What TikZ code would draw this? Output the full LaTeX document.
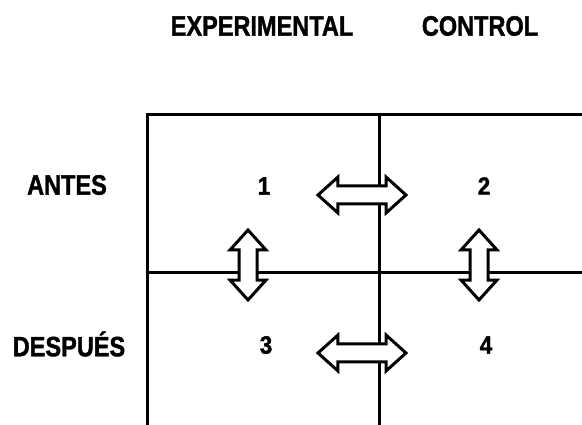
\documentclass[tikz,border=0pt]{standalone}
\usepackage{fontspec}
\setmainfont{Liberation Sans}[BoldFeatures={FakeBold=1.5}]
\usetikzlibrary{shapes.arrows}

\begin{document}
\begin{tikzpicture}
	[
	x=1pt, y=-1pt, line width=3pt, font=\fontsize{28}{30}\selectfont\bfseries,
	%Voreinstellungen für Beschriftung und Pfeile
	titel/.style={inner sep=0pt, xscale=0.84},
	zahl/.style={inner sep=0pt, xscale=0.9, font=\fontsize{25}{27}\selectfont\bfseries},
	pfeil/.style={draw, fill=white, double arrow, inner xsep=0pt, inner ysep=7.5pt, double arrow head extend=9pt, double arrow tip angle=84}
	]
	\useasboundingbox (0,0) rectangle (582,425);
	%Raster
	\draw (147,425) -- (147,115) -- (582,115);
	\draw (147,273) -- (582,273);
	\draw (379,115) -- (379,425);
	%Spalten und Zeilen
	\node[titel] (experimental) at (262,26) {EXPERIMENTAL};
	\node[titel] (control) at (480,26) {CONTROL};
	\node[titel] (antes) at (67,185) {ANTES};
	\node[titel] (despues) at (69,344) {DESPUÉS};
	%Felder
	\node[zahl] (g1) at (264,186) {1};
	\node[zahl] (g2) at (484,186) {2};
	\node[zahl] (g3) at (266,345) {3};
	\node[zahl] (g4) at (486,345) {4};
	%Doppelpfeile
	\node[pfeil, minimum height=88pt] (p12) at (362,195) {};
	\node[pfeil, minimum height=88pt] (p34) at (362,353) {};
	\node[pfeil, minimum height=70pt, rotate=90] (p13) at (248,265) {};
	\node[pfeil, minimum height=70pt, rotate=90] (p24) at (479,265) {};
\end{tikzpicture}
\end{document}
